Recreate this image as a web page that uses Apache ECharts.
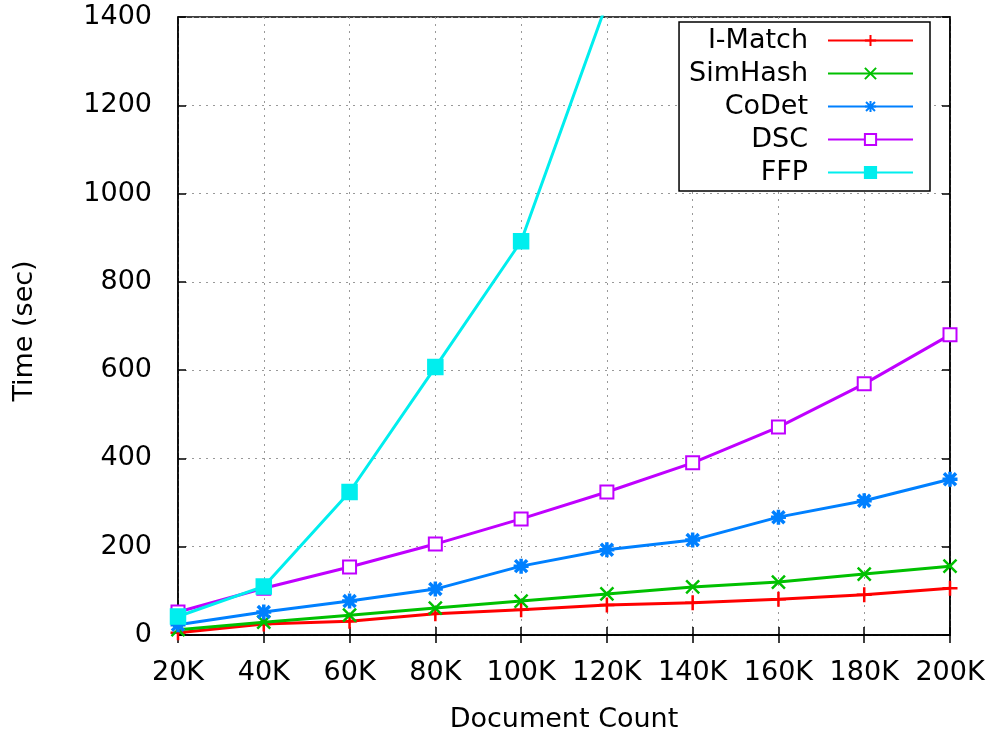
<!DOCTYPE html>
<html>
<head>
<meta charset="utf-8">
<script src="https://cdn.jsdelivr.net/npm/echarts@6/dist/echarts.min.js"></script>
<style>html,body{margin:0;padding:0;background:#fff}#c{width:989px;height:733px}</style>
</head>
<body>
<div id="c"></div>
<script>
const docCounts = [20000, 40000, 60000, 80000, 100000, 120000, 140000, 160000, 180000, 200000];
const seriesNames = ['I-Match', 'SimHash', 'CoDet', 'DSC', 'FFP'];
const iMatch = [5, 25, 31, 48, 57, 68, 73, 81, 91, 106];
const simHash = [12, 29, 45, 61, 77, 93, 109, 120, 138, 156];
const coDet = [23, 52, 77, 104, 156, 193, 215, 267, 304, 353];
const dsc = [52, 106, 154, 206, 263, 324, 390, 471, 569, 680];
const ffp = [42, 110, 324, 607, 892, 1432, null, null, null, null];
const yTicks = [0, 200, 400, 600, 800, 1000, 1200, 1400];

const colors = ['#ff0000', '#00c000', '#0080ff', '#c000ff', '#00eeee'];
const symbols = [
  'path://M5,0L5,10M0,5L10,5',
  'path://M0,0L10,10M10,0L0,10',
  'path://M5,0L5,10M0,5L10,5M1,1L9,9M9,1L1,9',
  'emptyRect',
  'rect'
];
const sizes = [15, 13, 15, 13, 14];
const values = [iMatch, simHash, coDet, dsc, ffp];

const font = 'DejaVu Sans';
const chart = echarts.init(document.getElementById('c'), null, {renderer: 'canvas'});

const series = seriesNames.map((n, i) => ({
  name: n,
  type: 'line',
  data: docCounts.map((x, j) => [x, values[i][j]]),
  symbol: symbols[i],
  symbolSize: sizes[i],
  showAllSymbol: true,
  clip: true,
  connectNulls: false,
  lineStyle: {color: colors[i], width: 3},
  itemStyle: {color: colors[i], borderColor: colors[i], borderWidth: i === 2 ? 3.5 : 2.5},
  emphasis: {disabled: true},
  z: 2 + i
}));

chart.setOption({
  animation: false,
  backgroundColor: '#fff',
  grid: {left: 178, right: 39, top: 17, bottom: 98, show: true, borderColor: '#000', borderWidth: 1.5,
    containLabel: false, outerBoundsMode: 'none'},
  legend: {
    orient: 'vertical',
    right: 59,
    top: 22,
    align: 'right',
    itemWidth: 85,
    itemHeight: 14,
    itemGap: 6,
    padding: [5, 16, 5, 10],
    borderColor: '#000',
    borderWidth: 1.5,
    backgroundColor: '#fff',
    textStyle: {fontFamily: font, fontSize: 27, color: '#000', padding: [0, 15, 0, 0]},
    data: seriesNames
  },
  xAxis: [{
    type: 'value',
    min: 20000, max: 200000, interval: 20000,
    name: 'Document Count',
    nameLocation: 'middle',
    nameGap: 71,
    nameTextStyle: {fontFamily: font, fontSize: 27, color: '#000'},
    axisLine: {show: true, lineStyle: {color: '#000', width: 1.5}},
    axisTick: {show: true, inside: true, length: 8, lineStyle: {color: '#000', width: 1.5}},
    axisLabel: {fontFamily: font, fontSize: 27, color: '#000', margin: 24,
      formatter: v => (v / 1000) + 'K'},
    splitLine: {show: true, lineStyle: {color: '#999', type: [2, 5], width: 1}}
  }, {
    type: 'value', position: 'top',
    min: 20000, max: 200000, interval: 20000,
    axisLine: {show: true, lineStyle: {color: '#000', width: 1.5}},
    axisTick: {show: true, inside: true, length: 8, lineStyle: {color: '#000', width: 1.5}},
    axisLabel: {show: false},
    splitLine: {show: false}
  }],
  yAxis: [{
    type: 'value',
    min: yTicks[0], max: yTicks[yTicks.length - 1], interval: 200,
    name: 'Time (sec)',
    nameLocation: 'middle',
    nameGap: 140,
    nameTextStyle: {fontFamily: font, fontSize: 27, color: '#000', padding: [0, 10, 0, 0]},
    axisLine: {show: true, lineStyle: {color: '#000', width: 1.5}},
    axisTick: {show: true, inside: true, length: 8, lineStyle: {color: '#000', width: 1.5}},
    axisLabel: {fontFamily: font, fontSize: 27, color: '#000', margin: 26,
      formatter: v => String(v)},
    splitLine: {show: true, lineStyle: {color: '#999', type: [2, 5], width: 1}}
  }, {
    type: 'value', position: 'right',
    min: yTicks[0], max: yTicks[yTicks.length - 1], interval: 200,
    axisLine: {show: true, lineStyle: {color: '#000', width: 1.5}},
    axisTick: {show: true, inside: true, length: 8, lineStyle: {color: '#000', width: 1.5}},
    axisLabel: {show: false},
    splitLine: {show: false}
  }],
  series: series
});
</script>
</body>
</html>
